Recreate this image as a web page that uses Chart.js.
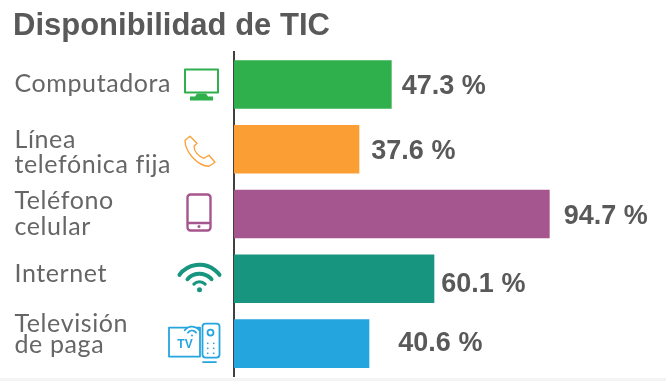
<!DOCTYPE html>
<html lang="es">
<head>
<meta charset="utf-8">
<title>Disponibilidad de TIC</title>
<script src="https://cdn.jsdelivr.net/npm/chart.js@4"></script>
<style>
    html, body { margin: 0; padding: 0; background: #f4f4f4; overflow: hidden; }
    #wrap { width: 666px; height: 378px; background: #fff; }
    canvas { display: block; }
</style>
</head>
<body>
<div id="wrap"><canvas id="ticChart" width="666" height="378"></canvas></div>
<script>
const categories = [["Computadora"], ["Línea", "telefónica fija"], ["Teléfono", "celular"], ["Internet"], ["Televisión", "de paga"]];
const values = [47.3, 37.6, 94.7, 60.1, 40.6];
const barColors = ["#2fb04c", "#fb9f35", "#a5568f", "#17957f", "#25a5de"];

// the labels are hand placed in the original, not evenly spaced
const labelGaps = [10, 12, 14, 7, 29];
const labelDrops = [2, 2, 2, 6, 0];
const tickDrops = [-1, 3, 0, -5, -9];
const tickLineGaps = [26, 25, 26, 26, 21];
const iconX = [201, 200, 199, 199, 195];

const pen = (ctx, color, width) => {
    ctx.strokeStyle = color;
    ctx.fillStyle = color;
    ctx.lineWidth = width;
    ctx.lineCap = "round";
    ctx.lineJoin = "round";
};

const icons = [
    // monitor
    (ctx, x, y) => {
        pen(ctx, barColors[0], 2);
        ctx.strokeRect(x - 16, y - 15, 33, 23);
        ctx.beginPath();
        ctx.moveTo(x - 4, y + 9);
        ctx.lineTo(x + 5, y + 9);
        ctx.lineTo(x + 7, y + 12);
        ctx.lineTo(x + 12, y + 12);
        ctx.lineTo(x + 12, y + 16);
        ctx.lineTo(x - 11, y + 16);
        ctx.lineTo(x - 11, y + 12);
        ctx.lineTo(x - 6, y + 12);
        ctx.closePath();
        ctx.fill();
    },
    // phone handset
    (ctx, x, y) => {
        pen(ctx, barColors[1], 1.3);
        ctx.beginPath();
        ctx.moveTo(x - 10, y - 13);
        ctx.lineTo(x - 15, y - 9);
        ctx.bezierCurveTo(x - 15, y + 3, x - 2, y + 17, x + 9, y + 17);
        ctx.lineTo(x + 15, y + 13);
        ctx.lineTo(x + 9, y + 6);
        ctx.lineTo(x + 4, y + 9);
        ctx.bezierCurveTo(x - 2, y + 7, x - 6, y + 2, x - 6, y - 3);
        ctx.lineTo(x - 3, y - 6);
        ctx.closePath();
        ctx.stroke();
    },
    // mobile
    (ctx, x, y) => {
        pen(ctx, barColors[2], 2.4);
        ctx.beginPath();
        ctx.roundRect(x - 11.5, y - 19.5, 23, 36, 3);
        ctx.stroke();
        ctx.beginPath();
        ctx.moveTo(x - 11, y + 9);
        ctx.lineTo(x + 11, y + 9);
        ctx.stroke();
        ctx.beginPath();
        ctx.arc(x, y + 12.5, 1.5, 0, Math.PI * 2);
        ctx.fill();
    },
    // wifi
    (ctx, x, y) => {
        pen(ctx, barColors[3], 4);
        [[25, 0.295, 4], [16, 0.27, 4], [8, 0.25, 3]].forEach(([r, half, w]) => {
            ctx.lineWidth = w;
            ctx.beginPath();
            ctx.arc(x + 0.5, y + 11, r, Math.PI * (1.5 - half), Math.PI * (1.5 + half));
            ctx.stroke();
        });
        ctx.beginPath();
        ctx.arc(x + 0.5, y + 11, 2.5, 0, Math.PI * 2);
        ctx.fill();
    },
    // tv and remote
    (ctx, x, y) => {
        pen(ctx, barColors[4], 1.8);
        ctx.beginPath();
        ctx.moveTo(x - 8, y - 16);
        ctx.lineTo(x - 26, y - 16);
        ctx.lineTo(x - 26, y + 13);
        ctx.lineTo(x + 5, y + 13);
        ctx.lineTo(x + 5, y - 16);
        ctx.lineTo(x + 2, y - 16);
        ctx.stroke();
        ctx.beginPath();
        ctx.roundRect(x + 7.5, y - 20, 17, 34, 3);
        ctx.stroke();
        ctx.beginPath();
        ctx.moveTo(x + 8, y + 18.5);
        ctx.lineTo(x + 21, y + 18.5);
        ctx.stroke();
        ctx.beginPath();
        ctx.arc(x + 15.5, y - 11, 3, 0, Math.PI * 2);
        ctx.stroke();
        for (let r = 0; r < 3; r++) {
            [12, 18].forEach(dx => ctx.fillRect(x + dx, y - 1 + r * 5, 1.5, 1.5));
        }
        [9, 5].forEach(r => {
            ctx.beginPath();
            ctx.arc(x - 3, y - 8, r, Math.PI * 1.2, Math.PI * 1.8);
            ctx.stroke();
        });
        ctx.beginPath();
        ctx.arc(x - 3, y - 8, 1, 0, Math.PI * 2);
        ctx.fill();
        ctx.font = "bold 12px 'Liberation Sans'";
        ctx.textAlign = "center";
        ctx.textBaseline = "middle";
        ctx.fillText("TV", x - 10, y + 1);
    }
];

const decorations = {
    id: "decorations",
    afterDatasetsDraw(chart) {
        const ctx = chart.ctx;
        const yScale = chart.scales.y;
        const xScale = chart.scales.x;
        values.forEach((value, i) => {
            const y = yScale.getPixelForValue(i);

            ctx.save();
            icons[i](ctx, iconX[i], y);
            ctx.restore();

            // category text
            ctx.save();
            ctx.font = "25px Lato";
            ctx.letterSpacing = "0.6px";
            ctx.fillStyle = "#666666";
            ctx.textAlign = "left";
            ctx.textBaseline = "middle";
            const lines = categories[i];
            const gap = tickLineGaps[i];
            lines.forEach((line, n) => {
                ctx.fillText(line, 14.5, y + tickDrops[i] + (n - (lines.length - 1) / 2) * gap);
            });
            ctx.restore();

            // value text
            ctx.save();
            ctx.font = "bold 27px 'Liberation Sans'";
            ctx.fillStyle = "#595959";
            ctx.textAlign = "left";
            ctx.textBaseline = "middle";
            ctx.fillText(value.toFixed(1) + " %", xScale.getPixelForValue(value) + labelGaps[i], y + labelDrops[i]);
            ctx.restore();
        });
    }
};

new Chart(document.getElementById("ticChart"), {
    type: "bar",
    data: {
        labels: categories,
        datasets: [{
            data: values,
            backgroundColor: barColors,
            barPercentage: 0.75,
            categoryPercentage: 1
        }]
    },
    options: {
        indexAxis: "y",
        responsive: false,
        animation: false,
        layout: { padding: { left: 13, top: 0, bottom: 2, right: 0 } },
        plugins: {
            legend: { display: false },
            tooltip: { enabled: false },
            title: {
                display: true,
                text: "Disponibilidad de TIC",
                align: "start",
                color: "#595959",
                font: { family: "'Liberation Sans'", size: 31, weight: "bold", lineHeight: 1.1 },
                padding: { top: 9, bottom: 9 }
            }
        },
        scales: {
            x: { display: false, min: 0, max: 129.6 },
            y: {
                afterFit: scale => {
                    scale.width = 221;
                    scale.paddingTop = 0;
                    scale.paddingBottom = 0;
                },
                grid: { display: false, drawTicks: false },
                border: { display: true, color: "#404040", width: 2 },
                ticks: { display: false }
            }
        }
    },
    plugins: [decorations]
});
</script>
</body>
</html>
